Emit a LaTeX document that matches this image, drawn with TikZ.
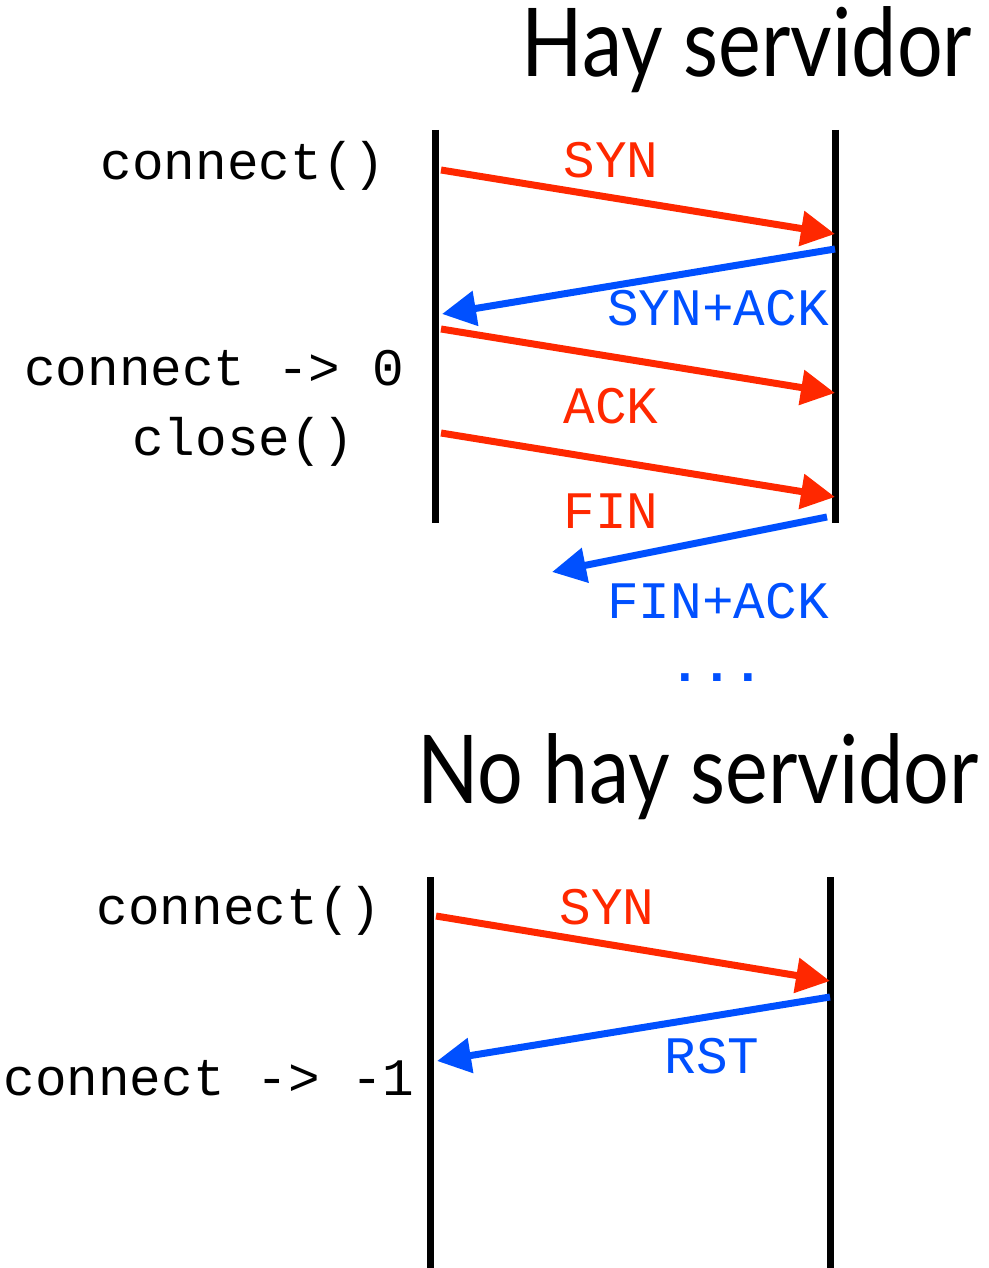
\documentclass[tikz,border=0pt]{standalone}
\usepackage{fontspec}
\setmainfont{Lato}
\newfontfamily\monofnt{Liberation Mono}
\usetikzlibrary{arrows.meta}
\definecolor{msgred}{RGB}{255,40,0}
\definecolor{msgblue}{RGB}{0,80,255}
\tikzset{
  lifeline/.style={line width=7pt, black},
  msg/.style={line width=7pt, -{Triangle[length=34pt,width=34pt]}},
  redmsg/.style={msg, msgred},
  bluemsg/.style={msg, msgblue},
  codetxt/.style={inner sep=0pt, anchor=base, font=\monofnt\fontsize{52.7}{60}\selectfont},
  titletxt/.style={inner sep=0pt, anchor=base, font=\fontsize{95}{100}\selectfont},
}
\newcommand{\titlebox}[1]{\scalebox{0.85}[1]{#1}}
\begin{document}
\begin{tikzpicture}[x=1pt,y=-1pt]
\useasboundingbox (0,0) rectangle (988,1268);

% ---------- Top: Hay servidor ----------
\node[titletxt] (t1) at (747,77) {\titlebox{Hay servidor}};

\coordinate (L1top) at (435,130);
\coordinate (L1bot) at (435,523);
\coordinate (R1top) at (835,130);
\coordinate (R1bot) at (835,523);
\draw[lifeline] (L1top) -- (L1bot);
\draw[lifeline] (R1top) -- (R1bot);

\coordinate (syn1s) at (441,170);
\coordinate (syn1e) at (835,234);
\coordinate (sa1s) at (835,249);
\coordinate (sa1e) at (442,314);
\coordinate (ack1s) at (441,329);
\coordinate (ack1e) at (835,393);
\coordinate (fin1s) at (441,433);
\coordinate (fin1e) at (835,497);
\coordinate (fa1s) at (827,517);
\coordinate (fa1e) at (552,572);

\draw[redmsg] (syn1s) -- (syn1e);
\draw[bluemsg] (sa1s) -- (sa1e);
\draw[redmsg] (ack1s) -- (ack1e);
\draw[redmsg] (fin1s) -- (fin1e);
\draw[bluemsg] (fa1s) -- (fa1e);

\node[codetxt, msgred] (lsyn1) at (611,178) {SYN};
\node[codetxt, msgblue] (lsa1) at (718,325) {SYN+ACK};
\node[codetxt, msgred] (lack1) at (611,423) {ACK};
\node[codetxt, msgred] (lfin1) at (611,528) {FIN};
\node[codetxt, msgblue] (lfa1) at (718,618) {FIN+ACK};
\node[codetxt, msgblue, font=\monofnt\bfseries\fontsize{52.7}{60}\selectfont] (ldots) at (717,681) {...};

\node[codetxt] (c1) at (243,179) {connect()};
\node[codetxt] (c1r) at (214,385) {connect -> 0};
\node[codetxt] (cl1) at (243,455) {close()};

% ---------- Bottom: No hay servidor ----------
\node[titletxt] (t2) at (698,803) {\titlebox{No hay servidor}};

\coordinate (L2top) at (430,877);
\coordinate (L2bot) at (430,1268);
\coordinate (R2top) at (830,877);
\coordinate (R2bot) at (830,1268);
\draw[lifeline] (L2top) -- (L2bot);
\draw[lifeline] (R2top) -- (R2bot);

\coordinate (syn2s) at (436,916);
\coordinate (syn2e) at (830,981);
\coordinate (rst2s) at (830,997);
\coordinate (rst2e) at (437,1061);
\draw[redmsg] (syn2s) -- (syn2e);
\draw[bluemsg] (rst2s) -- (rst2e);

\node[codetxt, msgred] (lsyn2) at (607,924) {SYN};
\node[codetxt, msgblue] (lrst2) at (712,1073) {RST};

\node[codetxt] (c2) at (239,924) {connect()};
\node[codetxt] (c2r) at (209,1095) {connect -> -1};
\end{tikzpicture}
\end{document}
